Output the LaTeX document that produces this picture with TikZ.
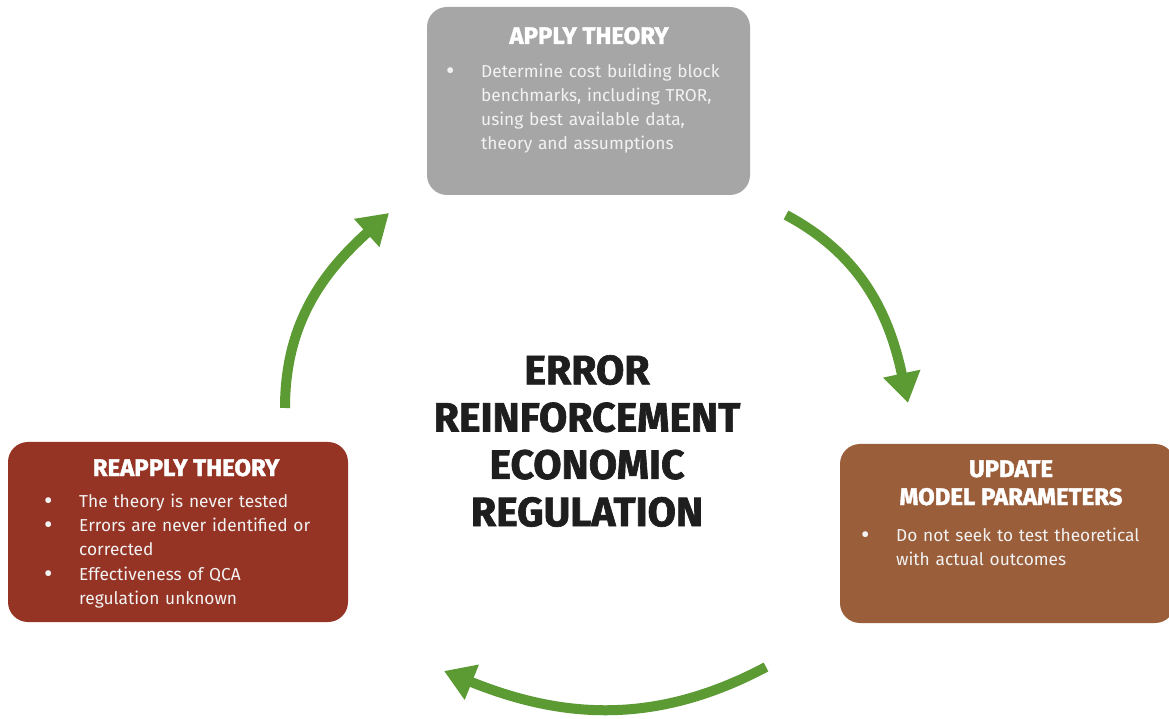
\documentclass[tikz,border=0pt]{standalone}
\usepackage{fontspec}
\setmainfont{Fira Sans}
\newfontfamily\heavyfont{Fira Sans}[BoldFeatures={FakeBold=1.6}]
\usetikzlibrary{arrows.meta}
\definecolor{boxgray}{HTML}{A6A6A7}
\definecolor{boxred}{HTML}{953425}
\definecolor{boxbrown}{HTML}{9A5E3A}
\definecolor{cyclegreen}{HTML}{5C9A34}
\definecolor{headblack}{HTML}{1E1E1E}
% one bulleted entry: the bullet, then the lines of the entry in a column
\newcommand{\bulletline}[1]{\par\noindent\makebox[34pt][l]{\hspace*{-1pt}\raisebox{-2.5pt}{\scalebox{1.5}{\textbullet}}}\begin{tabular}[t]{@{}l@{}}#1\end{tabular}\par}
\tikzset{
  stage/.style={rounded corners=20pt, minimum width=#1, inner sep=0pt},
  stagetitle/.style={text=white, font=\fontsize{24}{28}\heavyfont\bfseries, align=center, inner sep=0pt},
  stagebody/.style={text=white!95!black, font=\fontsize{17.3}{24}\selectfont, inner sep=0pt, anchor=north west, text width=#1},
  cyclearrow/.style={draw=cyclegreen, line width=10pt, -{Triangle[length=30pt,width=36pt]}},
}
\begin{document}
\begin{tikzpicture}[x=1pt,y=1pt]
\useasboundingbox[fill=white] (0,0) rectangle (1169,718);

% the three stages of the cycle
\node[stage=323pt, minimum height=188pt, fill=boxgray] (apply) at (588.5,617) {};
\node[stage=340pt, minimum height=180pt, fill=boxred] (reapply) at (178,186) {};
\node[stage=335pt, minimum height=179pt, fill=boxbrown] (update) at (1007.5,184.5) {};

% stage headings
\node[stagetitle, anchor=base] (applyhead) at (589,674) {APPLY THEORY};
\node[stagetitle, anchor=base] (reapplyhead) at (186,242) {REAPPLY THEORY};
\node[stagetitle, anchor=base] (updatehead) at (1011,241) {UPDATE};
\node[stagetitle, anchor=base] (updatehead2) at (1011,213) {MODEL PARAMETERS};

% stage descriptions
\node[stagebody=300pt] (applybody) at (447,665) {%
  \bulletline{Determine cost building block\\benchmarks, including TROR,\\using best available data,\\theory and assumptions}};
\node[stagebody=300pt] (reapplybody) at (45,235) {%
  \bulletline{The theory is never tested}%
  \bulletline{Errors are never identified or\\corrected}%
  \bulletline{Effectiveness of QCA\\regulation unknown}};
\node[stagebody=300pt] (updatebody) at (862,201) {%
  \bulletline{Do not seek to test theoretical\\with actual outcomes}};

% centre statement
\node[font=\fontsize{41}{47.3}\heavyfont\bfseries, text=headblack, align=center, inner sep=0pt] (centre) at (587,277)
  {ERROR\\REINFORCEMENT\\ECONOMIC\\REGULATION};

% arrows linking the stages
\coordinate (leftstart) at (285,310);
\coordinate (lefttip) at (389,505);
\coordinate (rightstart) at (786,503);
\coordinate (righttip) at (908,315);
\coordinate (bottomstart) at (766,51);
\coordinate (bottomtip) at (444,47);
\draw[cyclearrow] (leftstart) to[out=90, in=222] (lefttip);
\draw[cyclearrow] (rightstart) to[out=-28, in=102] (righttip);
\draw[cyclearrow] (bottomstart) to[out=208, in=-22] (bottomtip);
\end{tikzpicture}
\end{document}
